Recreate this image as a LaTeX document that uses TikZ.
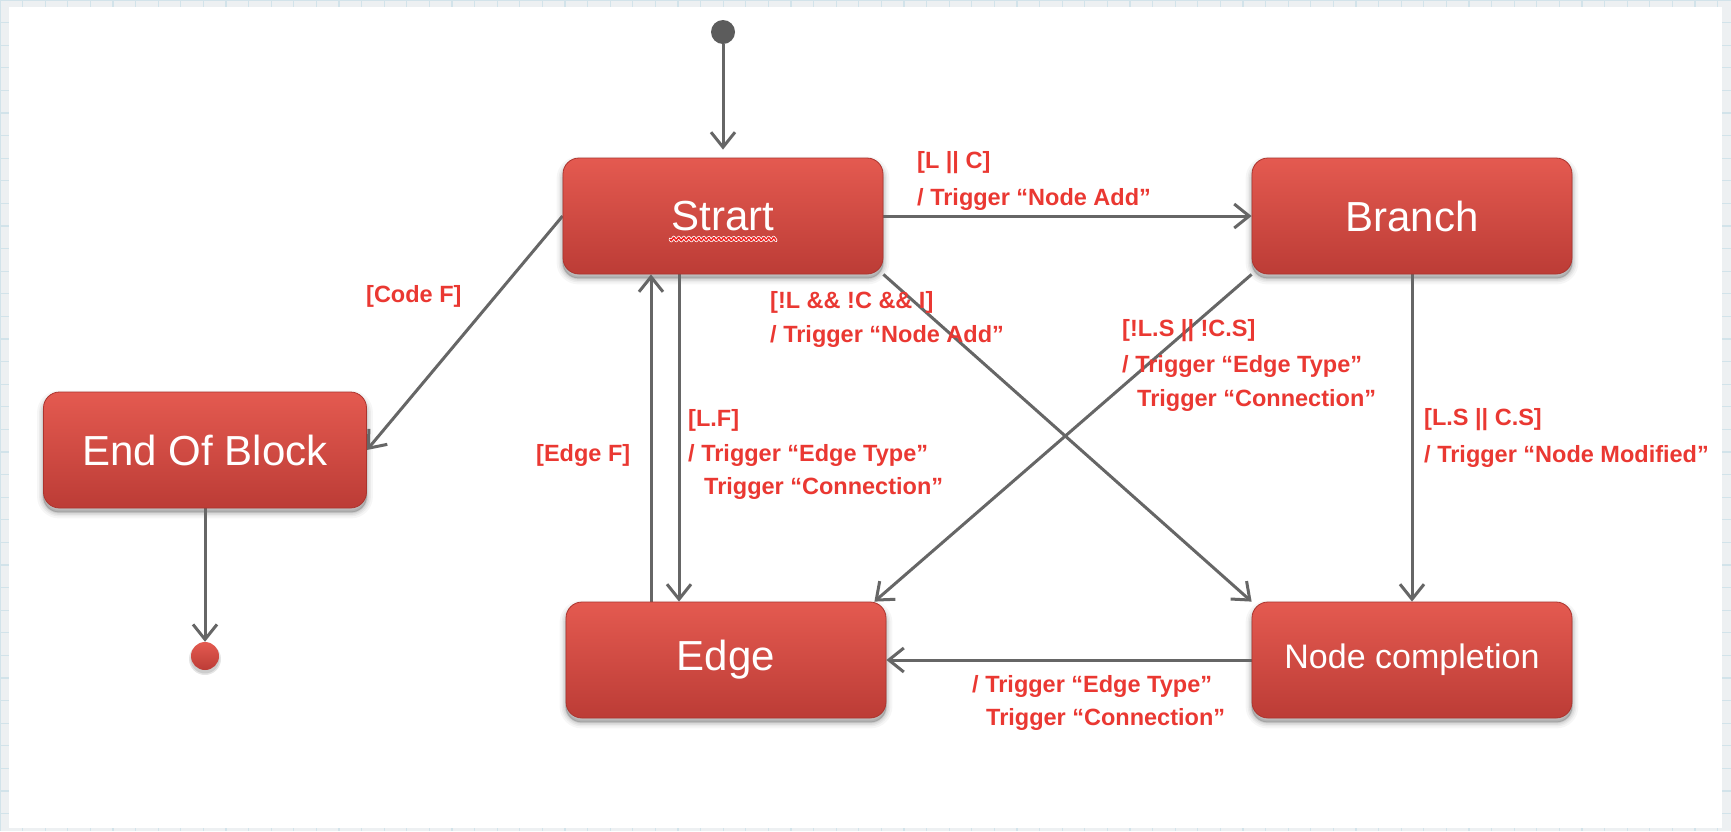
\documentclass[tikz,border=0pt]{standalone}
\usepackage{fontspec}
\setmainfont{Liberation Sans}
\usetikzlibrary{arrows.meta,calc}

\definecolor{stTop}{RGB}{228,90,80}
\definecolor{stBot}{RGB}{188,60,54}
\definecolor{stEdge}{RGB}{172,52,46}
\definecolor{lblRed}{RGB}{234,56,50}
\definecolor{squigRed}{RGB}{240,30,30}
\definecolor{lineGray}{RGB}{102,102,102}
\definecolor{dotGray}{RGB}{92,92,92}
\definecolor{gridBg}{RGB}{237,240,242}
\definecolor{gridLine}{RGB}{210,227,234}

\pgfdeclarelayer{bg}
\pgfdeclarelayer{shade}
\pgfdeclarelayer{edges}
\pgfsetlayers{bg,shade,edges,main}

\tikzset{
  state/.style={rectangle, rounded corners=16pt, top color=stTop, bottom color=stBot,
    draw=stEdge, line width=0.8pt, text=white, minimum width=320pt, minimum height=116pt,
    inner sep=0pt, font=\fontsize{42}{50}\selectfont},
  conn/.style={draw=lineGray, line width=3pt,
    -{Straight Barb[length=15pt,width=24pt,line width=3pt]}},
  lbl/.style={anchor=west, inner sep=0pt, text=lblRed,
    font=\fontsize{23.5}{28}\selectfont\bfseries},
  enddot/.style={circle, minimum size=28pt, inner sep=0pt, top color=stTop, bottom color=stBot},
  startdot/.style={circle, minimum size=24pt, inner sep=0pt, fill=dotGray},
  softshade/.style={black, rounded corners=16pt, line join=round},
}

% soft shadow under a state box: stacked translucent outlines
\newcommand\boxshadow[1]{%
  \begin{pgfonlayer}{shade}
    \foreach \w/\o in {12/0.035, 8/0.045, 5/0.055, 2/0.07}{%
      \filldraw[softshade, line width=\w pt, opacity=\o]
        ($(#1.north west)+(0,5)$) rectangle ($(#1.south east)+(0,4)$);}
  \end{pgfonlayer}}

\begin{document}
\begin{tikzpicture}[x=1pt, y=-1pt]
\useasboundingbox (0,0) rectangle (1731,831);

% sheet with grid margin
\begin{pgfonlayer}{bg}
  \fill[gridBg] (0,0) rectangle (1731,831);
  \foreach \gx in {0,22.6,...,1731} \draw[gridLine, line width=1.2pt] (\gx,0) -- (\gx,831);
  \foreach \gy in {0,22.6,...,831} \draw[gridLine, line width=1.2pt] (0,\gy) -- (1731,\gy);
  \fill[white] (9,7) rectangle (1722,828);
\end{pgfonlayer}

% states
\node[startdot] (init) at (723,32) {};
\node[state] (start)  at (723,216) {Strart};
\node[state] (branch) at (1412,216) {Branch};
\node[state, minimum width=323pt] (endb) at (205,450) {End Of Block};
\node[state] (edge)   at (726,660) {Edge};
\node[state, font=\fontsize{34}{40}\selectfont] (nodec) at (1412,660) {Node completion};
\node[enddot] (fin) at (205,656) {};

\boxshadow{start}
\boxshadow{branch}
\boxshadow{endb}
\boxshadow{edge}
\boxshadow{nodec}
\begin{pgfonlayer}{shade}
  \fill[black, opacity=0.10] ($(fin.center)+(0,3)$) circle (16pt);
  \fill[black, opacity=0.10] ($(fin.center)+(0,3)$) circle (14.5pt);
\end{pgfonlayer}

% spell-check squiggle under the misspelt word
\draw[white, line width=3pt, line join=round, line cap=round]
  plot[domain=0:106, samples=85] ({670+\x}, {239+1.8*sin(\x*72)});
\draw[squigRed, line width=1.4pt, line join=round]
  plot[domain=0:106, samples=85] ({670+\x}, {239+1.8*sin(\x*72)});

% transitions
\begin{pgfonlayer}{edges}
  \draw[conn, shorten >=8pt] (init) -- (start.north);
  \draw[conn] (start.east) -- (branch.west);
  \draw[conn] (start.west) -- (endb.east);
  \draw[conn] (start.south east) -- (nodec.north west);
  \draw[conn] (branch.south west) -- ($(edge.north east)+(-12,0)$);
  \draw[conn] (branch.south) -- (nodec.north);
  \draw[conn] ([xshift=-44pt]start.south) -- ([xshift=-47pt]edge.north);
  \draw[conn] ([xshift=-75pt]edge.north) -- ([xshift=-72pt]start.south);
  \draw[conn] (nodec.west) -- (edge.east);
  \draw[conn] (endb.south) -- (fin.north);
\end{pgfonlayer}

% guards and actions
\node[lbl] (g1a) at (917,163) {[L || C]};
\node[lbl] (g1b) at (917,199) {/ Trigger “Node Add”};

\node[lbl] (g2) at (366,296) {[Code F]};

\node[lbl] (g3a) at (770,302) {[!L \&\& !C \&\& I]};
\node[lbl] (g3b) at (770,336) {/ Trigger “Node Add”};

\node[lbl] (g4a) at (1122,331) {[!L.S || !C.S]};
\node[lbl] (g4b) at (1122,366) {/ Trigger “Edge Type”};
\node[lbl] (g4c) at (1137,400) {Trigger “Connection”};

\node[lbl] (g5a) at (1424,420) {[L.S || C.S]};
\node[lbl] (g5b) at (1424,456) {/ Trigger “Node Modified”};

\node[lbl] (g6a) at (688,420) {[L.F]};
\node[lbl] (g6b) at (688,455) {/ Trigger “Edge Type”};
\node[lbl] (g6c) at (704,488) {Trigger “Connection”};

\node[lbl] (g7) at (536,455) {[Edge F]};

\node[lbl] (g8a) at (972,686) {/ Trigger “Edge Type”};
\node[lbl] (g8b) at (986,719) {Trigger “Connection”};
\end{tikzpicture}
\end{document}
